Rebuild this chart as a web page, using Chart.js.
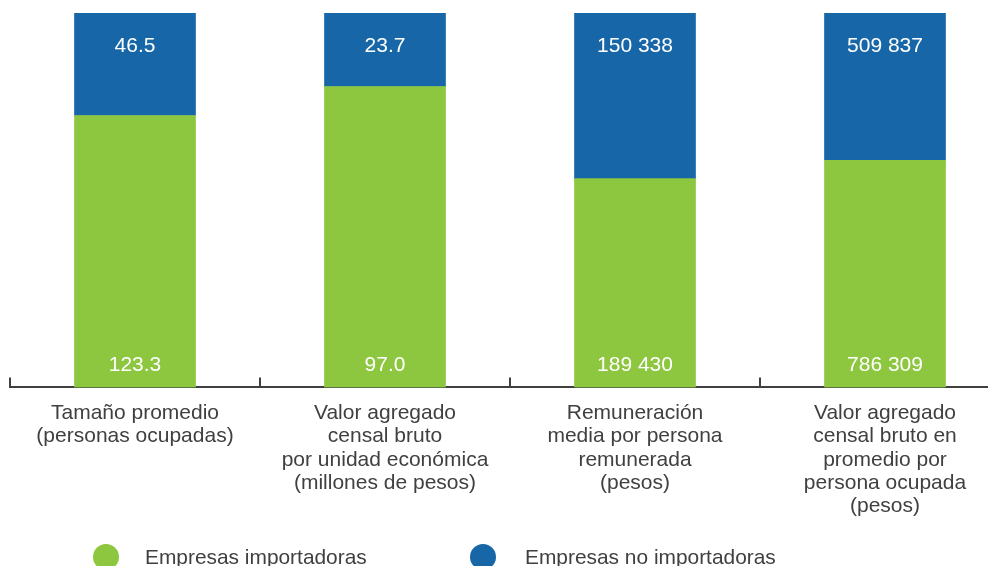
<!DOCTYPE html>
<html>
<head>
<meta charset="utf-8">
<script src="https://cdn.jsdelivr.net/npm/chart.js@4.4.0/dist/chart.umd.min.js"></script>
<style>
  html, body { margin: 0; padding: 0; background: #ffffff; overflow: hidden; width: 988px; height: 566px; }
  #wrap { position: absolute; left: 0; top: 0; width: 1030px; height: 566px; }
  .lg { position: absolute; font-family: "Liberation Sans", Arial, sans-serif; font-size: 20.9px; color: #404040; line-height: 26px; white-space: nowrap; }
  .dot { position: absolute; width: 26px; height: 26px; border-radius: 50%; }
</style>
</head>
<body>
<div id="wrap"><canvas id="c"></canvas></div>
<div id="legend"></div>
<script>
// ---- data ----
const categories = [
  ["Tamaño promedio", "(personas ocupadas)"],
  ["Valor agregado", "censal bruto", "por unidad económica", "(millones de pesos)"],
  ["Remuneración", "media por persona", "remunerada", "(pesos)"],
  ["Valor agregado", "censal bruto en", "promedio por", "persona ocupada", "(pesos)"]
];
const seriesNames = ["Empresas importadoras", "Empresas no importadoras"];
const importadoras = [123.3, 97.0, 189430, 786309];
const noImportadoras = [46.5, 23.7, 150338, 509837];
const decimals = [1, 1, 0, 0];

// ---- styles ----
const GREEN = "#8DC63F";
const BLUE = "#1767A8";
const TEXT = "#404040";
const FONT = '"Liberation Sans", Arial, sans-serif';

const totals = importadoras.map((v, i) => v + noImportadoras[i]);
const shareImp = importadoras.map((v, i) => v / totals[i]);
const shareNo = noImportadoras.map((v, i) => v / totals[i]);

function fmt(v, d) {
  const s = v.toFixed(d);
  const parts = s.split(".");
  parts[0] = parts[0].replace(/\B(?=(\d{3})+(?!\d))/g, " ");
  return parts.join(".");
}
const rawSeries = [importadoras, noImportadoras];

const valueLabels = {
  id: "valueLabels",
  afterDatasetsDraw(chart) {
    const ctx = chart.ctx;
    ctx.save();
    ctx.fillStyle = "#ffffff";
    ctx.font = "21px " + FONT;
    ctx.textAlign = "center";
    ctx.textBaseline = "middle";
    chart.data.datasets.forEach((ds, di) => {
      const meta = chart.getDatasetMeta(di);
      meta.data.forEach((el, i) => {
        const txt = fmt(rawSeries[di][i], decimals[i]);
        if (di === 0) {
          ctx.fillText(txt, el.x, el.base - 22);
        } else {
          ctx.fillText(txt, el.x, el.y + 33);
        }
      });
    });
    ctx.restore();
  }
};

const upTicks = {
  id: "upTicks",
  afterDraw(chart) {
    const xs = chart.scales.x;
    const ctx = chart.ctx;
    const n = chart.data.labels.length;
    const w = (xs.right - xs.left) / n;
    ctx.save();
    ctx.strokeStyle = TEXT;
    ctx.lineWidth = 2;
    for (let i = 0; i <= n; i++) {
      const px = Math.round(xs.getPixelForValue(0) - w / 2 + i * w);
      ctx.beginPath();
      ctx.moveTo(px, xs.top);
      ctx.lineTo(px, xs.top - 10);
      ctx.stroke();
    }
    ctx.restore();
  }
};

new Chart(document.getElementById("c"), {
  type: "bar",
  data: {
    labels: categories,
    datasets: [
      { label: seriesNames[0], data: shareImp, backgroundColor: GREEN, barThickness: 121 },
      { label: seriesNames[1], data: shareNo, backgroundColor: BLUE, barThickness: 121 }
    ]
  },
  options: {
    responsive: true,
    maintainAspectRatio: false,
    animation: false,
    layout: { padding: { left: 10, right: 20, top: 13, bottom: 34 } },
    plugins: { legend: { display: false }, tooltip: { enabled: false } },
    scales: {
      x: {
        stacked: true,
        grid: { display: false, drawTicks: false },
        border: { display: true, color: TEXT, width: 2 },
        ticks: {
          color: TEXT,
          font: { family: FONT, size: 21, lineHeight: 1.11 },
          padding: 14,
          maxRotation: 0,
          autoSkip: false
        }
      },
      y: {
        stacked: true,
        display: false,
        min: 0,
        max: 1
      }
    }
  },
  plugins: [valueLabels, upTicks]
});

// HTML legend
const legend = document.getElementById("legend");
const legendPos = [{ dot: 93, text: 145 }, { dot: 470, text: 525 }];
[GREEN, BLUE].forEach((col, i) => {
  const d = document.createElement("div");
  d.className = "dot";
  d.style.left = legendPos[i].dot + "px";
  d.style.top = "544px";
  d.style.background = col;
  legend.appendChild(d);
  const t = document.createElement("div");
  t.className = "lg";
  t.style.left = legendPos[i].text + "px";
  t.style.top = "544px";
  t.textContent = seriesNames[i];
  legend.appendChild(t);
});
</script>
</body>
</html>
